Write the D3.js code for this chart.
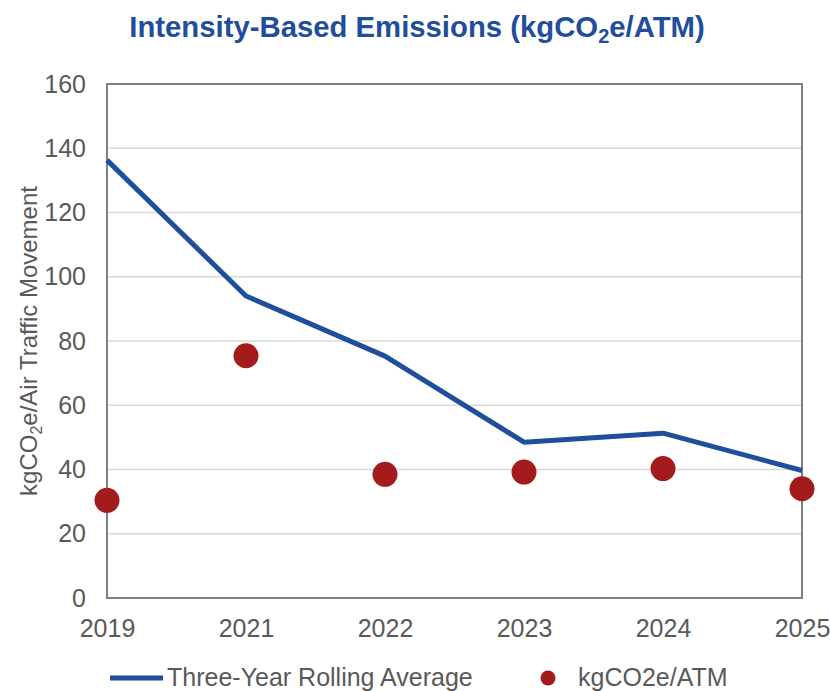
<!DOCTYPE html>
<html>
<head>
<meta charset="utf-8">
<script src="https://cdn.jsdelivr.net/npm/d3@7"></script>
<style>
  body { margin: 0; background: #fff; }
  svg { display: block; }
</style>
</head>
<body>
<div class="container"></div>
<script>
'use strict';

// Chart data
const years = ["2019", "2021", "2022", "2023", "2024", "2025"];
const rollingAverage = [136.3, 94.0, 75.3, 48.5, 51.3, 39.7];
const intensity = [30.4, 75.4, 38.5, 39.2, 40.3, 34.0];
const yTicks = [0, 20, 40, 60, 80, 100, 120, 140, 160];

const width = 830;
const height = 691;
const margin = {top: 84, right: 28, bottom: 93, left: 107};

const lineColor = "#1f4e9c";
const dotColor = "#a31b1b";
const textColor = "#595959";
const sans = "'Liberation Sans', Arial, sans-serif";

const svg = d3.select("div.container").append("svg")
    .attr("width", width)
    .attr("height", height)
    .attr("viewBox", "0 0 " + width + " " + height);

// Scales
const x = d3.scalePoint()
    .domain(years)
    .range([margin.left, width - margin.right]);

const y = d3.scaleLinear()
    .domain([0, 160])
    .range([height - margin.bottom, margin.top]);

// Title (with subscript 2)
const title = svg.append("text")
    .attr("x", 417)
    .attr("y", 37)
    .attr("text-anchor", "middle")
    .attr("fill", lineColor)
    .style("font-family", "'Liberation Sans Narrow', 'Arial Narrow', 'Liberation Sans', Arial, sans-serif")
    .style("font-weight", "bold")
    .style("font-size", "29.3px");
title.append("tspan").text("Intensity-Based Emissions (kgCO");
title.append("tspan").text("2").attr("dy", 6).style("font-size", "20px");
title.append("tspan").text("e/ATM)").attr("dy", -6);

// Gridlines
svg.append("g")
    .selectAll("line")
    .data(yTicks.filter(d => d > 0 && d < 160))
    .join("line")
    .attr("x1", margin.left)
    .attr("x2", width - margin.right)
    .attr("y1", d => y(d))
    .attr("y2", d => y(d))
    .attr("stroke", "#d9d9d9")
    .attr("stroke-width", 1.5);

// Plot frame
svg.append("rect")
    .attr("x", margin.left)
    .attr("y", margin.top)
    .attr("width", width - margin.right - margin.left)
    .attr("height", height - margin.bottom - margin.top)
    .attr("fill", "none")
    .attr("stroke", "#808080")
    .attr("stroke-width", 2);

// Y axis
const yAxis = svg.append("g")
    .attr("transform", "translate(" + margin.left + ",0)")
    .call(d3.axisLeft(y).tickValues(yTicks).tickSize(0).tickPadding(21));
yAxis.select(".domain").remove();
yAxis.selectAll("text")
    .attr("fill", textColor)
    .style("font-family", sans)
    .style("font-size", "25px");

// X axis
const xAxis = svg.append("g")
    .attr("transform", "translate(0," + (height - margin.bottom) + ")")
    .call(d3.axisBottom(x).tickSize(0).tickPadding(21));
xAxis.select(".domain").remove();
xAxis.selectAll("text")
    .attr("fill", textColor)
    .style("font-family", sans)
    .style("font-size", "25px");

// Y axis title
const yTitle = svg.append("text")
    .attr("transform", "translate(37,341) rotate(-90)")
    .attr("text-anchor", "middle")
    .attr("fill", textColor)
    .style("font-family", sans)
    .style("font-size", "24px");
yTitle.append("tspan").text("kgCO");
yTitle.append("tspan").text("2").attr("dy", 5).style("font-size", "16px");
yTitle.append("tspan").text("e/Air Traffic Movement").attr("dy", -5);

// Rolling average line
const line = d3.line()
    .x((d, i) => x(years[i]))
    .y(d => y(d));

svg.append("path")
    .datum(rollingAverage)
    .attr("d", line)
    .attr("fill", "none")
    .attr("stroke", lineColor)
    .attr("stroke-width", 5)
    .attr("stroke-linejoin", "round");

// Intensity dots
svg.append("g")
    .selectAll("circle")
    .data(intensity)
    .join("circle")
    .attr("cx", (d, i) => x(years[i]))
    .attr("cy", d => y(d))
    .attr("r", 12.5)
    .attr("fill", dotColor);

// Legend
const legend = svg.append("g")
    .style("font-family", sans)
    .style("font-size", "25px");

legend.append("line")
    .attr("x1", 110).attr("x2", 163)
    .attr("y1", 678).attr("y2", 678)
    .attr("stroke", lineColor)
    .attr("stroke-width", 5);
legend.append("text")
    .attr("x", 167).attr("y", 686)
    .attr("fill", textColor)
    .text("Three-Year Rolling Average");

legend.append("circle")
    .attr("cx", 548).attr("cy", 678)
    .attr("r", 7.5)
    .attr("fill", dotColor);
legend.append("text")
    .attr("x", 578).attr("y", 686)
    .attr("fill", textColor)
    .text("kgCO2e/ATM");
</script>
</body>
</html>
